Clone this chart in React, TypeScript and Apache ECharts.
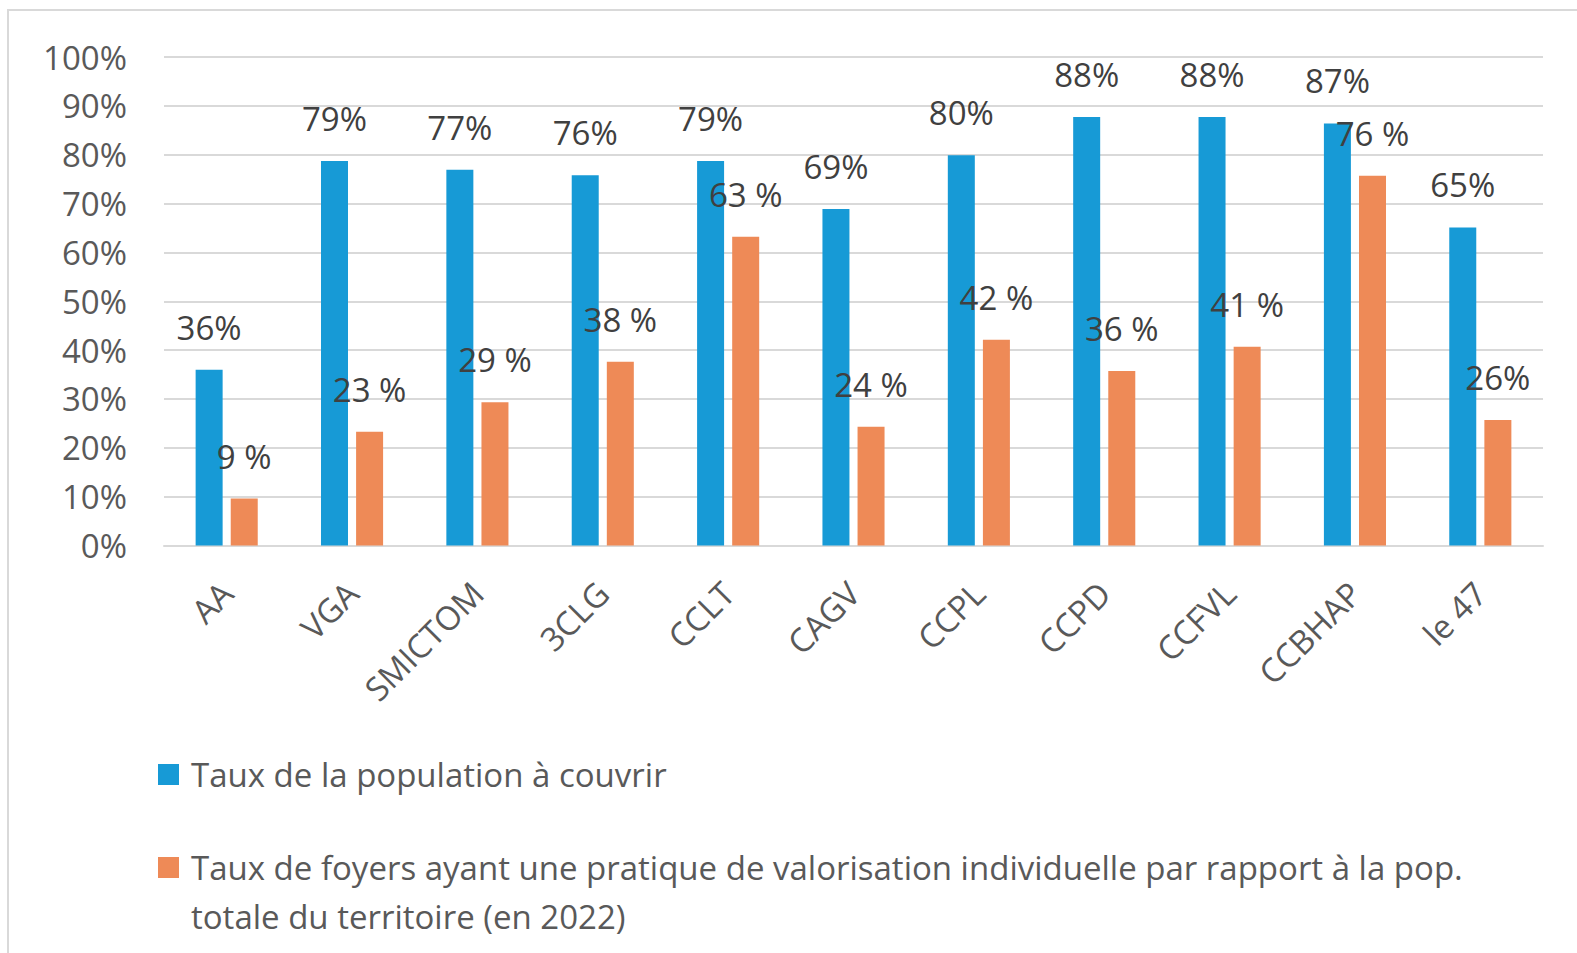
import React, { useEffect, useRef } from "react";
import * as echarts from "echarts";

const categories = ["AA", "VGA", "SMICTOM", "3CLG", "CCLT", "CAGV", "CCPL", "CCPD", "CCFVL", "CCBHAP", "le 47"];
const coverValues = [36, 78.7, 76.9, 75.8, 78.7, 68.9, 79.9, 87.7, 87.7, 86.4, 65.1];
const coverLabels = ["36%", "79%", "77%", "76%", "79%", "69%", "80%", "88%", "88%", "87%", "65%"];
const homeValues = [9.6, 23.3, 29.3, 37.6, 63.2, 24.3, 42.1, 35.7, 40.7, 75.7, 25.7];
const homeLabels = ["9 %", "23 %", "29 %", "38 %", "63 %", "24 %", "42 %", "36 %", "41 %", "76 %", "26%"];
const yTicks = [0, 10, 20, 30, 40, 50, 60, 70, 80, 90, 100];

const seriesCover = "Taux de la population à couvrir";
const seriesHome = "Taux de foyers ayant une pratique de valorisation individuelle par rapport à la pop. totale du territoire (en 2022)";
const seriesHomeLines = [
  "Taux de foyers ayant une pratique de valorisation individuelle par rapport à la pop.",
  "totale du territoire (en 2022)",
];

const FONT = "'Open Sans', 'Noto Sans', sans-serif";
const BLUE = "#179ad6";
const ORANGE = "#ee8a57";

export default function App() {
  const ref = useRef<HTMLDivElement>(null);

  useEffect(() => {
    document.body.style.margin = "0";
    const chart = echarts.init(ref.current!, undefined, { renderer: "svg" });
    const legendText = {
      fontSize: 33,
      fontFamily: FONT,
      color: "#595959",
      lineHeight: 49,
      padding: [0, 0, 0, 7],
    };
    chart.setOption({
      animation: false,
      backgroundColor: "#ffffff",
      graphic: [
        {
          type: "rect",
          shape: { x: 8, y: 10, width: 1600, height: 1000 },
          style: { fill: "none", stroke: "#d9d9d9", lineWidth: 2 },
          silent: true,
          z: -10,
        },
      ],
      grid: { left: 164, right: 34, top: 57, bottom: 407.5, containLabel: false },
      legend: [
        {
          data: [seriesCover],
          orient: "vertical",
          left: 158,
          top: 750,
          padding: 0,
          icon: "rect",
          itemWidth: 21,
          itemHeight: 21,
          selectedMode: false,
          textStyle: legendText,
        },
        {
          data: [seriesHome],
          orient: "vertical",
          left: 158,
          top: 794,
          padding: 0,
          icon: "rect",
          itemWidth: 21,
          itemHeight: 21,
          selectedMode: false,
          textStyle: legendText,
          formatter: (name: string) => (name === seriesHome ? " \n" + seriesHomeLines.join("\n") : name),
        },
      ],
      xAxis: {
        type: "category",
        data: categories,
        axisLine: { show: true, lineStyle: { color: "#d9d9d9", width: 2 } },
        axisTick: { show: false },
        axisLabel: {
          rotate: 45,
          margin: 42,
          fontSize: 33,
          fontFamily: FONT,
          color: "#595959",
          interval: 0,
        },
      },
      yAxis: {
        type: "value",
        min: yTicks[0],
        max: yTicks[yTicks.length - 1],
        interval: 10,
        axisLine: { show: false },
        axisTick: { show: false },
        splitLine: { lineStyle: { color: "#d9d9d9", width: 2 } },
        axisLabel: {
          formatter: "{value}%",
          fontSize: 33,
          fontFamily: FONT,
          color: "#595959",
          margin: 37,
        },
      },
      series: [
        {
          name: seriesCover,
          type: "bar",
          data: coverValues,
          barWidth: 27,
          barGap: "30%",
          itemStyle: { color: BLUE },
          label: {
            show: true,
            position: "top",
            distance: 26,
            fontSize: 33,
            fontFamily: FONT,
            color: "#404040",
            formatter: (p: any) => coverLabels[p.dataIndex],
          },
        },
        {
          name: seriesHome,
          type: "bar",
          data: homeValues,
          barWidth: 27,
          barGap: "30%",
          itemStyle: { color: ORANGE },
          label: {
            show: true,
            position: "top",
            distance: 26,
            fontSize: 33,
            fontFamily: FONT,
            color: "#404040",
            formatter: (p: any) => homeLabels[p.dataIndex],
          },
        },
      ],
    });
    return () => chart.dispose();
  }, []);

  return <div ref={ref} style={{ width: 1577, height: 953 }} />;
}
